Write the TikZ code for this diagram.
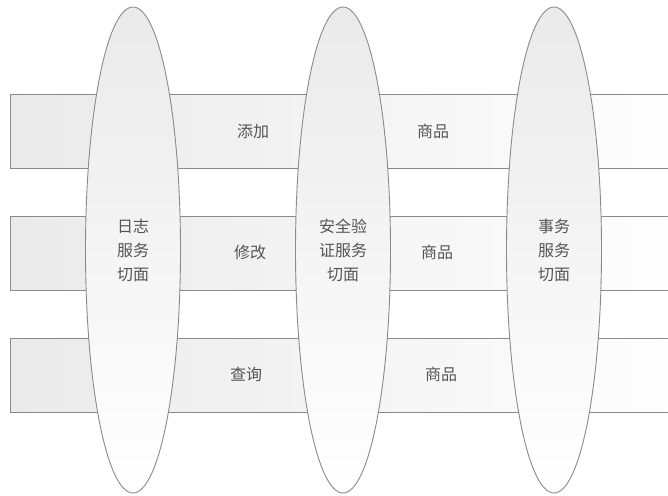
\documentclass[tikz,border=0pt]{standalone}
\usepackage{fontspec}
\setmainfont{Noto Sans CJK SC}
\usetikzlibrary{shapes.geometric}
\definecolor{edge}{HTML}{8A8A8A}
\definecolor{txt}{HTML}{555555}
\definecolor{fillA}{HTML}{EAEAEA}
\definecolor{fillB}{HTML}{FBFBFB}
\tikzset{
  band/.style={draw=edge, line width=0.9pt, rectangle, inner sep=0pt,
    minimum width=700pt, minimum height=74pt,
    left color=fillA, right color=white},
  aspect/.style={draw=edge, line width=0.9pt, ellipse, inner sep=0pt,
    minimum width=95pt, minimum height=486pt,
    top color=fillA, bottom color=white,
    font=\fontsize{16}{24}\selectfont, text=txt, align=center},
  lbl/.style={font=\fontsize{16}{20}\selectfont, text=txt, inner sep=0pt}
}
\begin{document}
\begin{tikzpicture}[x=1pt, y=-1pt]
\clip (0,0) rectangle (668,495);
\fill[white] (0,0) rectangle (668,495);
% bands (extending past the right edge)
\node[band] (r1) at (360,131) {};
\node[band] (r2) at (360,253) {};
\node[band] (r3) at (360,375) {};
% aspects
\node[aspect] (e1) at (133,250) {日志\\服务\\切面};
\node[aspect] (e2) at (343,250) {安全验\\证服务\\切面};
\node[aspect] (e3) at (554,250) {事务\\服务\\切面};
% labels
\node[lbl] (t1) at (253,131) {添加};
\node[lbl] (p1) at (433,131) {商品};
\node[lbl] (t2) at (250,252) {修改};
\node[lbl] (p2) at (437,252) {商品};
\node[lbl] (t3) at (246,374) {查询};
\node[lbl] (p3) at (441,374) {商品};
\end{tikzpicture}
\end{document}
